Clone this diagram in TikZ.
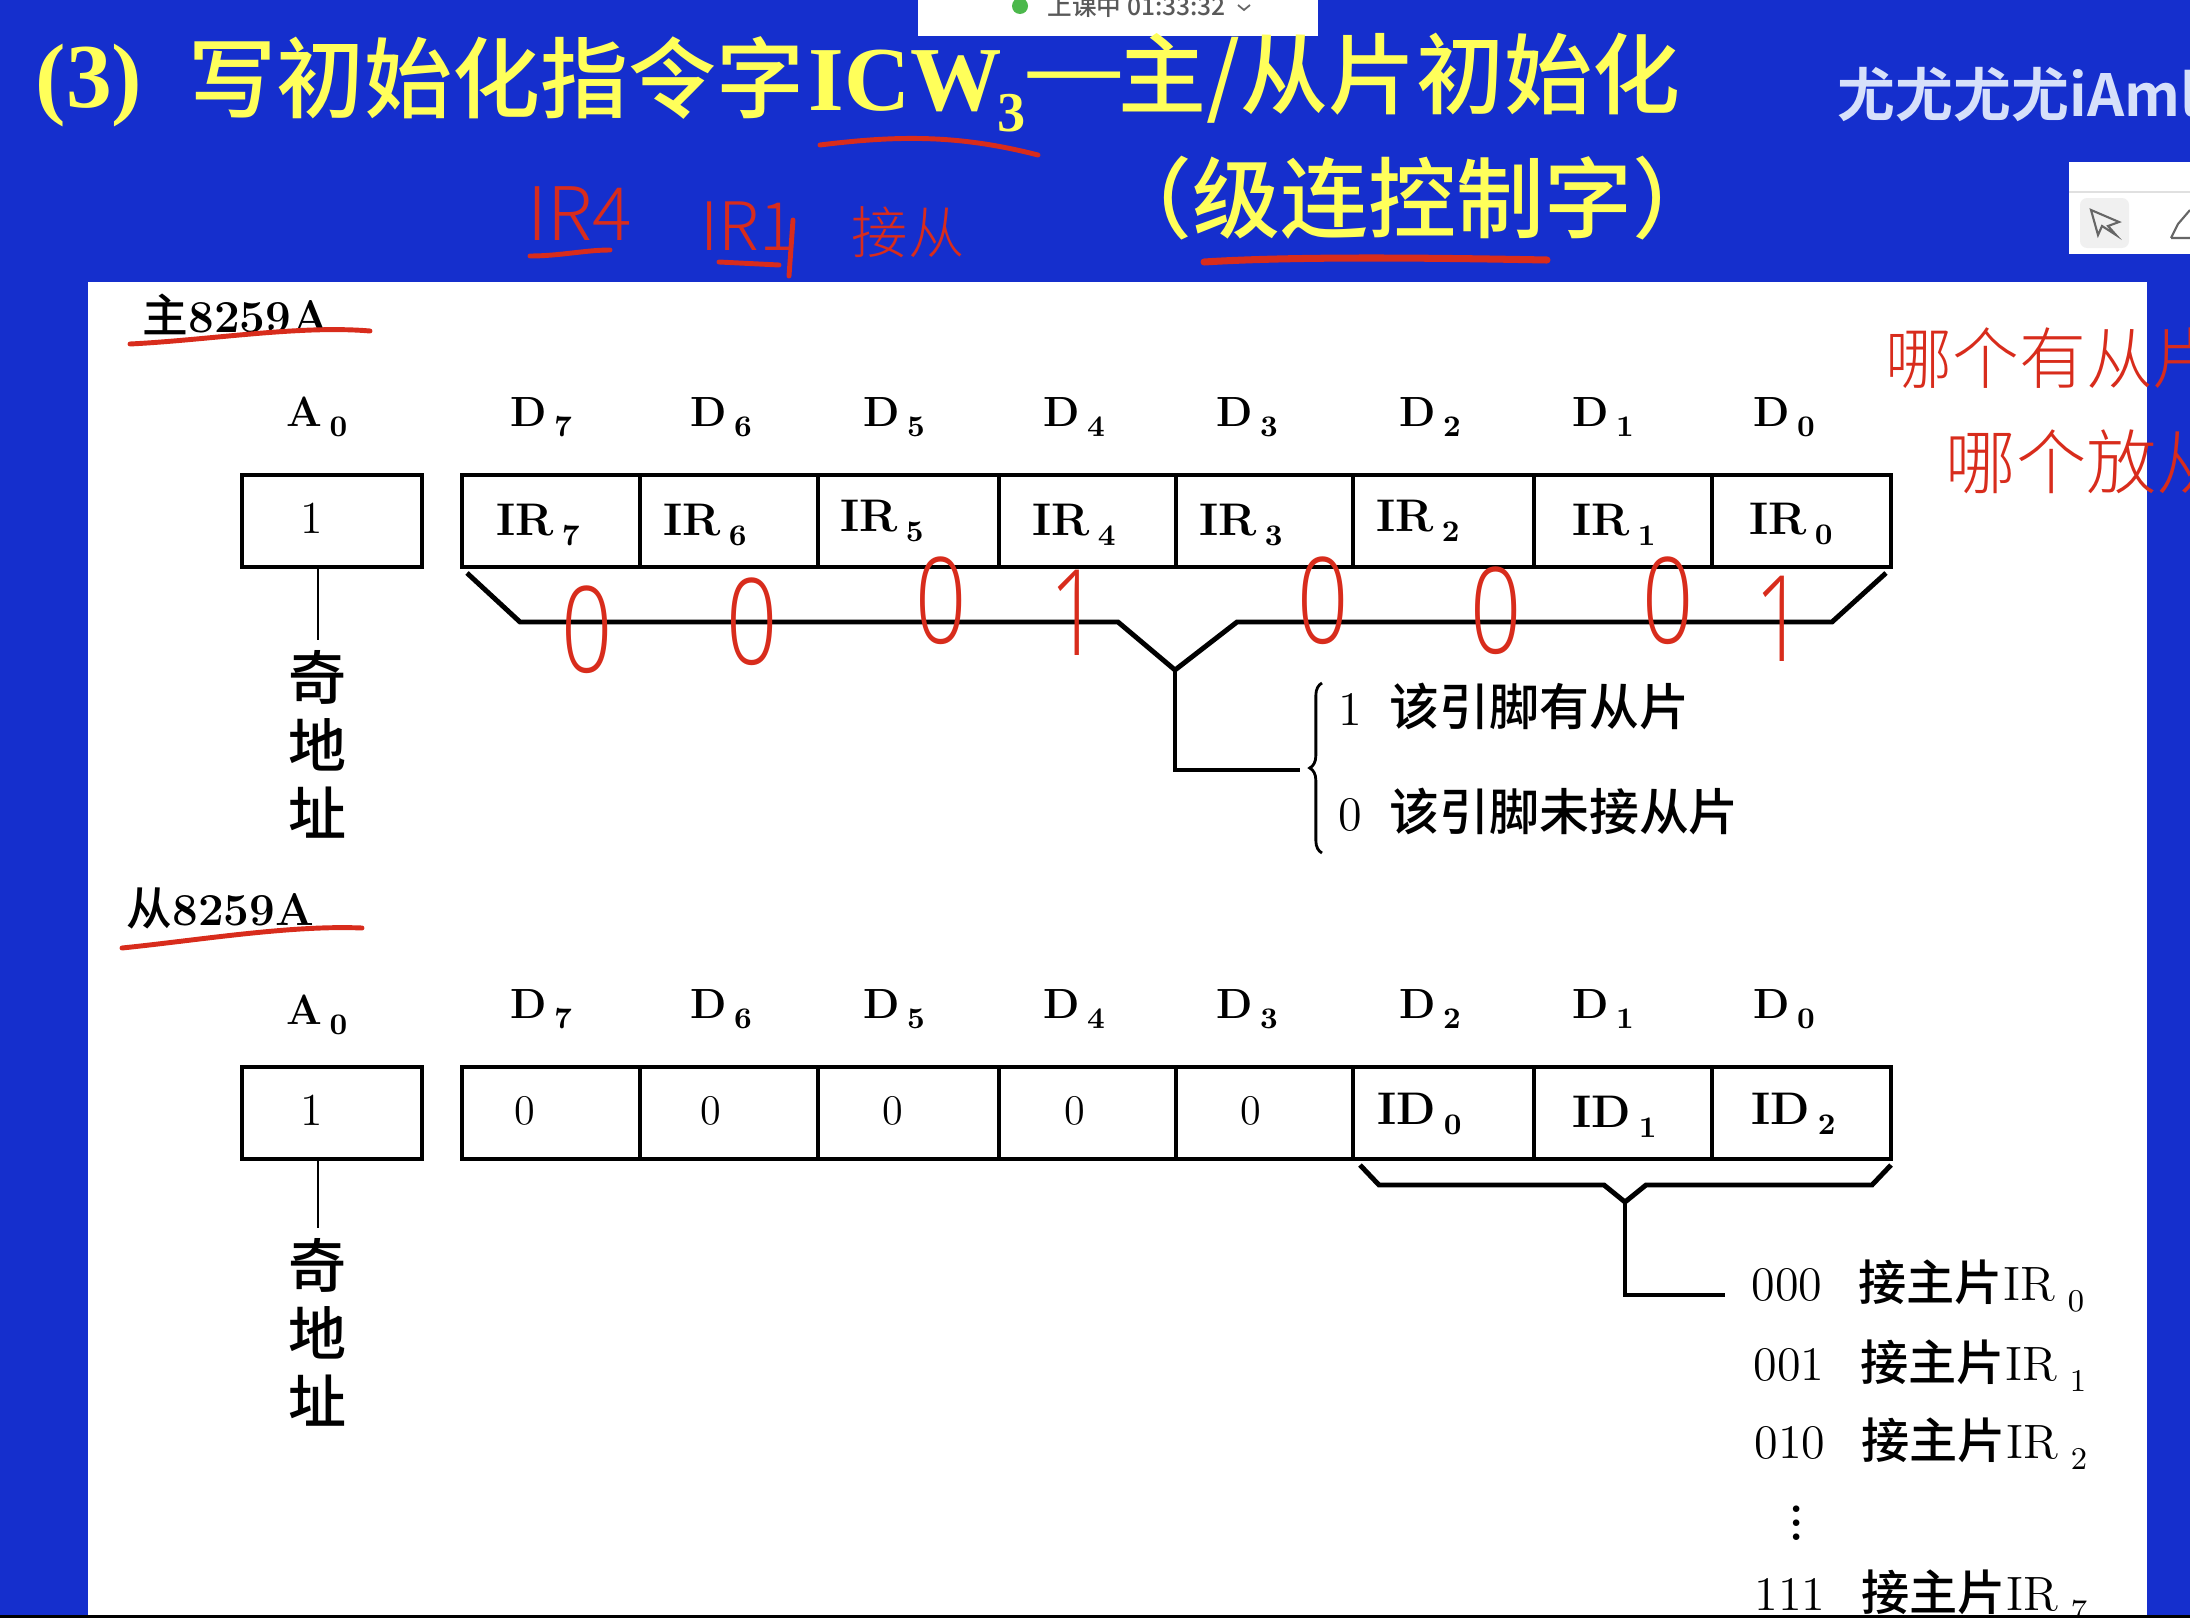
\documentclass[tikz,border=0pt]{standalone}
\usepackage{fontspec}
\usepackage{tikz}
\usetikzlibrary{decorations.pathreplacing}
\newfontfamily\cjk{Noto Sans CJK SC Medium}
\newfontfamily\cjkbold{Noto Sans CJK SC Bold}
\newfontfamily\handfont{Noto Sans CJK SC Light}
\newfontfamily\bitfont{Open Sans Light}
\newfontfamily\titlelatin{Liberation Serif}
\definecolor{slideblue}{RGB}{21,47,205}
\definecolor{titleyellow}{RGB}{255,255,90}
\definecolor{handred}{RGB}{216,44,28}
\definecolor{markwhite}{RGB}{214,224,250}
\newcommand{\fs}[1]{\fontsize{#1}{#1}\selectfont}
\newcommand{\sublab}[2]{\textbf{#1}\,\raisebox{-.55ex}{\fs{8.5}\bfseries #2}}
\newcommand{\subreg}[2]{#1\hspace{0.13cm}\raisebox{-.55ex}{\fs{9}#2}}
\newcommand{\redbit}[1]{\scalebox{0.75}[1]{#1}}
\tikzset{
  cellbox/.style={draw,line width=1pt,inner sep=0,outer sep=0,minimum height=0.92cm},
  celltext/.style={inner sep=0,anchor=base west,font=\fs{13}},
  toplabel/.style={inner sep=0,anchor=base west,font=\fs{12}},
  titletext/.style={inner sep=0,anchor=west,text=titleyellow,font=\fs{25}\cjk},
  titlefont/.style={inner sep=0,anchor=west,text=titleyellow,font=\fs{26}\bfseries\titlelatin},
  note/.style={inner sep=0,anchor=base west,font=\fs{13.7}},
  addr/.style={inner sep=0,outer sep=3pt,align=center,font=\fs{16.5}\cjk},
  handtext/.style={inner sep=0,text=handred},
  handbit/.style={inner sep=0,text=handred,font=\fs{34}\bitfont},
  stroke/.style={draw=handred,line width=1.4pt,line cap=round},
  wire/.style={line width=1pt},
  thinwire/.style={line width=0.6pt},
  brk/.style={line width=1.4pt,line join=miter}
}
\begin{document}
\begin{tikzpicture}[x=0.01cm,y=-0.01cm]
    \useasboundingbox (0,0) rectangle (2190,1618);
    \fill[slideblue] (0,0) rectangle (2190,1618);
    \fill[white] (88,282) rectangle (2147,1618);

    \fill[white] (918,0) rectangle (1318,36);
    \fill[green!60!black!70] (1020,6) circle (8);
    \node[inner sep=0,anchor=west,text=black!65,font=\fs{7}\cjk] (clock) at (1047,6) {上课中 01:33:32};
    \draw[black!60,line width=0.5pt] (1238,5)--(1244,10)--(1250,5);

    \fill[white] (2069,162) rectangle (2190,254);
    \draw[black!12,line width=0.5pt] (2069,192)--(2190,192);
    \fill[black!6,rounded corners=2pt] (2080,198) rectangle (2129,248);
    \draw[black!60,line width=0.6pt] (2091,210)--(2119,222)--(2108,226)--(2116,235)--(2102,226)--(2098,235)--cycle;
    \draw[black!60,line width=0.6pt] (2171,238)--(2178,224)--(2190,210) (2171,238)--(2190,238);

    \node[titlefont] (num) at (35,86) {(3)};
    \node[titletext] (title1) at (188,78) {写初始化指令字};
    \node[titlefont] (icw) at (808,81) {ICW};
    \node[inner sep=0,text=titleyellow,font=\fs{16}\bfseries\titlelatin] (icwsub) at (1012,113) {3};
    \node[titlefont] (dash) at (1028,84) {—};
    \node[titletext] (title2) at (1118,78) {主/从片初始化};
    \node[titletext] (title3) at (1104,198) {（级连控制字）};
    \node[inner sep=0,anchor=west,text=markwhite,font=\fs{16.5}\cjkbold] (mark) at (1837,95) {尤尤尤尤iAml};

    \node[handtext,font=\fs{21}\handfont] (irfour) at (580,214) {IR4};
    \node[handtext,font=\fs{19}\handfont] (irone) at (748,226) {IR1};
    \node[handtext,font=\fs{16}\handfont] (jiecong) at (908,232) {接从};
    \draw[stroke] (820,145) .. controls (900,135) and (960,135) .. (1038,155);
    \draw[stroke,line width=2pt] (1204,262) .. controls (1300,256) and (1440,258) .. (1547,260);
    \draw[stroke] (530,256) .. controls (560,256) and (585,250) .. (610,250);
    \draw[stroke] (719,262)--(779,265);
    \draw[stroke] (793,220)--(789,276);

    \node[inner sep=0,anchor=west,font=\fs{13}] (mastername) at (142,314) {{\cjk 主}\textbf{8259A}};
    \draw[stroke] (130,344) .. controls (210,340) and (300,325) .. (370,331);
    \node[inner sep=0,anchor=west,font=\fs{13}] (slavename) at (126,908) {{\cjk 从}\textbf{8259A}};
    \draw[stroke] (122,948) .. controls (200,940) and (290,925) .. (362,928);

    \node[toplabel] (ma) at (286,426) {\sublab{A}{0}};
    \node[cellbox,minimum width=1.8cm] (mazero) at (332,521) {};
    \node[celltext] (mone) at (300,533) {1};
    \node[toplabel] (sa) at (286,1024) {\sublab{A}{0}};
    \node[cellbox,minimum width=1.8cm] (sazero) at (332,1113) {};
    \node[celltext] (sone) at (300,1125) {1};

    \foreach \n/\cx/\w/\lx/\tx/\ty in {7/551/178/510/496/535,6/729/178/690/663/535,5/908.5/181/863/840/531,4/1087.5/177/1043/1032/535,3/1264.5/177/1216/1199/535,2/1443.5/181/1399/1376/531,1/1623/178/1572/1572/535,0/1801.5/179/1753/1749/534}
    {
      \node[cellbox,minimum width=\w*0.01cm] (m\n) at (\cx,521) {};
      \node[toplabel] (md\n) at (\lx,426) {\sublab{D}{\n}};
      \node[celltext] (mt\n) at (\tx,\ty) {\sublab{IR}{\n}};
      \node[cellbox,minimum width=\w*0.01cm] (s\n) at (\cx,1113) {};
      \node[toplabel] (sd\n) at (\lx,1018) {\sublab{D}{\n}};
    }
    \foreach \n/\tx in {7/514,6/700,5/882,4/1064,3/1240}
    {
      \node[celltext,anchor=base west,font=\fs{12}] (st\n) at (\tx,1124) {0};
    }
    \node[celltext] (stid2) at (1377,1124) {\sublab{ID}{0}};
    \node[celltext] (stid1) at (1572,1127) {\sublab{ID}{1}};
    \node[celltext] (stid0) at (1751,1124) {\sublab{ID}{2}};

    \node[addr] (maddr) at (318,744) {奇\\[2.8pt]地\\[2.8pt]址};
    \node[addr] (saddr) at (318,1332) {奇\\[2.8pt]地\\[2.8pt]址};
    \draw[thinwire] (maddr.north |- mazero.south)--(maddr.north);
    \draw[thinwire] (saddr.north |- sazero.south)--(saddr.north);

    \coordinate (mtip) at (1175,670);
    \coordinate (mend) at (1300,770);
    \draw[brk] (467,573)--(520,622)--(1118,622)--(mtip)--(1237,622)--(1832,622)--(1886,573);
    \draw[wire] (mtip)--(mtip |- mend)--(mend);
    \draw[line width=0.8pt,decorate,decoration={brace,amplitude=3.5pt}] (1322,853)--(1322,683);
    \node[note] (yes) at (1338,725) {1\hspace{0.27cm}{\cjk\fs{14.2}该引脚有从片}};
    \node[note] (no) at (1338,830) {0\hspace{0.27cm}{\cjk\fs{14.2}该引脚未接从片}};

    \coordinate (stip) at (1625,1202);
    \coordinate (send) at (1725,1295);
    \draw[brk] (1360,1165)--(1379,1185)--(1604,1185)--(stip)--(1646,1185)--(1872,1185)--(1891,1165);
    \draw[wire] (stip)--(stip |- send)--(send);
    \node[note] (row0) at (1751,1300) {000\hspace{0.36cm}{\cjk 接主片}\subreg{IR}{0}};
    \node[note] (row1) at (1753,1380) {001\hspace{0.36cm}{\cjk 接主片}\subreg{IR}{1}};
    \node[note] (row2) at (1754,1458) {010\hspace{0.36cm}{\cjk 接主片}\subreg{IR}{2}};
    \node[inner sep=0,font=\fs{13}\bfseries] (dots) at (1797,1513) {\vdots};
    \node[note] (row7) at (1754,1610) {111\hspace{0.36cm}{\cjk 接主片}\subreg{IR}{7}};

    \foreach \x/\y/\b in {587/630/0,752/622/0,941/601/0,1075/613/1,1323/601/0,1496/611/0,1668/601/0,1780/619/1}
    {
      \node[handbit] (bit\x) at (\x,\y) {\redbit{\b}};
    }
    \node[handtext,anchor=west,font=\fs{19}\handfont] (which1) at (1885,358) {哪个有从片};
    \node[handtext,anchor=west,font=\fs{20}\handfont] (which2) at (1945,462) {哪个放从};

    \fill[black] (0,1615) rectangle (2190,1618);
\end{tikzpicture}
\end{document}
